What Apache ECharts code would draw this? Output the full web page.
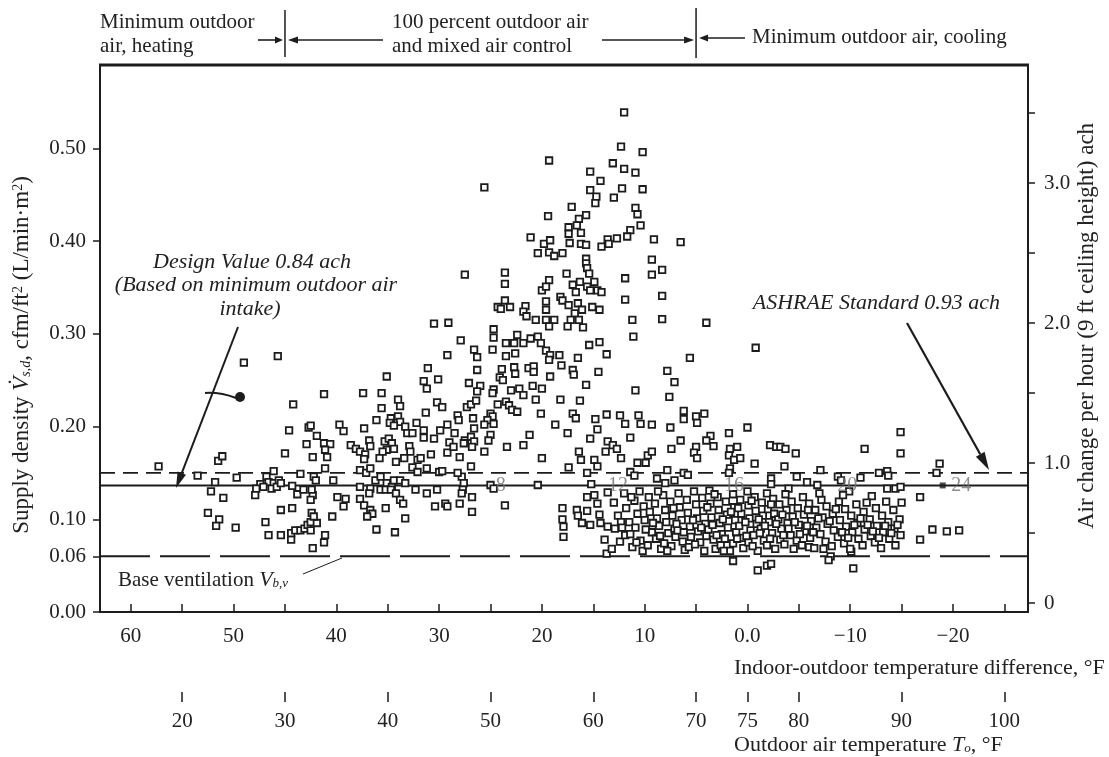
<!DOCTYPE html>
<html><head><meta charset="utf-8">
<script src="https://cdn.jsdelivr.net/npm/echarts@6/dist/echarts.min.js"></script>
<style>html,body{margin:0;padding:0;background:#fff}#c{width:1109px;height:757px}</style>
</head><body><div id="c"></div>
<script>
// ---------- axis values ----------
const tempDiffMin = -27.3, tempDiffMax = 63;
const tempDiffTicks = [-25,-20,-15,-10,-5,0,5,10,15,20,25,30,35,40,45,50,55,60];
const tempDiffLabels = [-20,-10,0,10,20,30,40,50,60];
const indoorTemp = 75;               // outdoor temperature = 75 - difference
const outdoorTempLabels = [20,30,40,50,60,70,75,80,90,100];
const supplyMin = 0, supplyMax = 0.59;
const supplyLabels = [0,0.06,0.10,0.20,0.30,0.40,0.50];
const achMin = -0.064, achMax = 3.843;
const achTicks = [0,0.5,1,1.5,2,2.5,3,3.5];
const achLabels = [0,1,2,3];
const controlBounds = [45, 5];       // temperature differences of the control-mode boundaries
const designAch = 0.84, ashraeAch = 0.93, baseVentilation = 0.06;
const hourLabels = ['8','12','16','20','24'];
const hourTempDiff = [24.0,12.6,1.3,-9.7,-20.8];
const hourMarkerDiff = [-19.0];

// ---------- measured points [temperature difference °F, supply density cfm/ft2] ----------
const heatingPoints = [[49.0,0.269],[45.7,0.276],[44.2,0.224],[44.6,0.196],[42.7,0.199],[41.9,0.190],[42.9,0.181],[45.0,0.171],[42.3,0.167],[57.3,0.157],[51.5,0.163],[51.1,0.168],[53.5,0.147],[51.8,0.140],[49.7,0.145],[52.2,0.130],[51.0,0.123],[46.1,0.152],[46.8,0.146],[46.6,0.140],[46.1,0.139],[45.6,0.142],[47.4,0.138],[47.8,0.133],[47.1,0.135],[46.3,0.133],[45.8,0.135],[45.4,0.139],[47.9,0.126],[44.3,0.136],[43.5,0.149],[43.8,0.127],[43.2,0.132],[42.3,0.126],[42.2,0.146],[52.5,0.107],[51.4,0.100],[51.7,0.093],[49.8,0.091],[46.9,0.097],[46.6,0.083],[45.4,0.110],[44.3,0.112],[45.4,0.083],[44.4,0.078],[44.4,0.085],[44.0,0.088],[43.5,0.088],[43.1,0.090],[42.8,0.094],[42.5,0.097],[42.4,0.107],[41.9,0.096],[42.3,0.069]];

const mixedLowPoints = [[27.5,0.364],[23.6,0.366],[23.6,0.354],[23.6,0.336],[24.3,0.329],[24.0,0.327],[30.5,0.311],[29.1,0.312],[24.7,0.305],[24.7,0.296],[23.5,0.290],[27.9,0.293],[29.2,0.277],[26.6,0.283],[26.3,0.275],[24.8,0.283],[23.5,0.276],[31.1,0.263],[35.1,0.254],[31.5,0.249],[31.2,0.241],[30.1,0.251],[26.3,0.261],[23.9,0.262],[24.1,0.253],[23.8,0.250],[27.1,0.247],[26.0,0.244],[26.3,0.238],[24.7,0.240],[24.8,0.236],[41.2,0.235],[37.4,0.236],[35.6,0.236],[34.0,0.229],[33.8,0.222],[35.6,0.220],[30.2,0.226],[29.7,0.221],[31.3,0.215],[27.3,0.221],[26.9,0.224],[26.4,0.228],[24.3,0.224],[23.5,0.227],[28.2,0.212],[28.1,0.207],[26.7,0.209],[26.6,0.198],[25.0,0.214],[24.8,0.211],[25.3,0.207],[24.7,0.203],[25.6,0.202],[36.1,0.207],[34.7,0.209],[34.8,0.204],[34.0,0.211],[33.8,0.205],[34.4,0.201],[33.3,0.200],[33.1,0.193],[32.6,0.193],[32.2,0.204],[31.5,0.196],[31.5,0.188],[30.5,0.187],[29.9,0.196],[29.2,0.202],[28.5,0.193],[27.5,0.185],[26.9,0.189],[26.6,0.184],[25.0,0.191],[25.2,0.185],[42.5,0.201],[39.7,0.202],[39.3,0.195],[37.3,0.198],[41.2,0.182],[40.6,0.181],[41.1,0.175],[40.9,0.167],[38.6,0.180],[38.1,0.176],[37.7,0.173],[36.8,0.185],[36.7,0.179],[37.2,0.170],[37.3,0.165],[35.3,0.184],[34.9,0.187],[34.6,0.182],[34.4,0.176],[35.1,0.175],[35.5,0.173],[35.8,0.166],[32.9,0.179],[32.8,0.173],[34.2,0.162],[33.4,0.166],[32.1,0.164],[31.8,0.166],[32.6,0.156],[32.1,0.151],[30.8,0.170],[29.2,0.172],[31.2,0.155],[30.0,0.151],[29.7,0.152],[29.0,0.183],[28.6,0.178],[28.0,0.167],[27.6,0.182],[26.8,0.178],[26.9,0.157],[25.6,0.173],[23.4,0.178],[41.1,0.155],[40.3,0.142],[42.0,0.142],[37.7,0.153],[37.1,0.150],[36.7,0.155],[36.2,0.142],[35.7,0.146],[35.1,0.139],[34.6,0.135],[34.4,0.142],[33.8,0.142],[33.3,0.139],[35.7,0.132],[35.2,0.132],[34.7,0.132],[34.2,0.128],[36.7,0.133],[36.8,0.128],[37.7,0.135],[32.3,0.132],[31.2,0.128],[30.2,0.132],[27.8,0.146],[27.6,0.139],[27.7,0.132],[27.8,0.128],[28.2,0.150],[26.8,0.124],[25.0,0.137],[24.7,0.133],[42.4,0.132],[42.5,0.121],[39.9,0.124],[39.1,0.122],[39.3,0.114],[37.7,0.122],[37.3,0.115],[36.7,0.110],[36.5,0.106],[37.0,0.103],[35.2,0.112],[33.8,0.121],[33.5,0.117],[30.4,0.114],[29.4,0.117],[29.2,0.114],[28.0,0.117],[26.8,0.108],[23.6,0.115],[40.4,0.103],[33.3,0.101],[36.1,0.089],[34.3,0.086],[42.2,0.103],[42.5,0.088],[41.1,0.083],[41.2,0.075],[25.6,0.458]];

const mixedPeakPoints = [[12.0,0.539],[12.3,0.502],[10.2,0.496],[19.3,0.487],[13.1,0.484],[12.0,0.478],[10.9,0.474],[15.3,0.475],[14.3,0.465],[15.3,0.455],[14.7,0.448],[14.8,0.441],[12.2,0.457],[13.0,0.447],[10.2,0.456],[17.1,0.437],[10.9,0.436],[10.7,0.429],[10.4,0.417],[19.4,0.427],[15.7,0.428],[16.4,0.424],[16.6,0.417],[16.2,0.409],[17.4,0.415],[17.4,0.408],[17.3,0.398],[11.4,0.412],[11.7,0.405],[12.7,0.403],[13.6,0.402],[14.2,0.394],[13.5,0.397],[9.1,0.402],[21.1,0.404],[19.8,0.397],[19.2,0.401],[20.4,0.387],[19.3,0.388],[18.8,0.384],[18.0,0.387],[16.2,0.397],[15.7,0.396],[15.7,0.381],[15.7,0.376],[15.6,0.371],[15.4,0.365],[9.3,0.380],[9.3,0.364],[8.3,0.369],[11.9,0.360],[11.9,0.337],[8.3,0.341],[8.3,0.316],[11.1,0.297],[11.2,0.315],[19.3,0.358],[20.0,0.347],[19.6,0.351],[17.6,0.365],[17.0,0.353],[16.7,0.345],[16.3,0.356],[15.6,0.351],[14.9,0.356],[14.6,0.347],[14.2,0.345],[15.3,0.347],[18.2,0.340],[18.0,0.336],[19.6,0.335],[19.6,0.326],[21.6,0.330],[21.8,0.324],[21.5,0.319],[23.1,0.329],[17.4,0.331],[16.5,0.333],[16.1,0.326],[16.8,0.322],[17.2,0.315],[16.4,0.315],[15.1,0.329],[14.4,0.326],[20.6,0.315],[19.6,0.315],[18.8,0.315],[19.3,0.308],[17.5,0.308],[16.0,0.307],[22.4,0.299],[22.7,0.290],[21.8,0.290],[21.1,0.295],[20.4,0.297],[20.1,0.290],[15.4,0.288],[14.4,0.291],[6.5,0.399],
[22.6,0.279],[19.6,0.282],[19.2,0.277],[19.3,0.272],[18.3,0.277],[13.7,0.278],[16.5,0.274],[18.1,0.266],[22.7,0.264],[22.6,0.257],[21.3,0.263],[20.8,0.265],[20.8,0.259],[19.2,0.254],[17.0,0.261],[16.9,0.256],[14.5,0.259],[15.7,0.245],[7.8,0.260],[7.1,0.248],[10.9,0.239],[7.6,0.232],[23.0,0.239],[22.2,0.241],[21.8,0.234],[20.9,0.244],[20.0,0.241],[20.6,0.229],[18.2,0.229],[16.3,0.228],[23.2,0.223],[22.9,0.218],[22.4,0.216],[20.1,0.214],[17.0,0.214],[16.7,0.209],[14.8,0.208],[13.7,0.213],[12.4,0.212],[11.9,0.203],[10.6,0.212],[10.4,0.203],[9.3,0.202],[7.5,0.199],[6.5,0.185],[18.7,0.202],[17.5,0.193],[21.2,0.191],[21.8,0.180],[14.6,0.197],[15.3,0.187],[11.4,0.188],[13.6,0.184],[13.8,0.173],[13.1,0.180],[12.7,0.176],[12.3,0.166],[7.4,0.176],[20.0,0.166],[16.4,0.173],[16.2,0.164],[14.9,0.164],[14.6,0.157],[10.7,0.161],[9.9,0.161],[9.7,0.169],[9.3,0.173],[17.4,0.156],[15.6,0.150],[11.4,0.151],[11.0,0.147],[8.8,0.144],[7.8,0.153],[8.0,0.139],[7.1,0.142],[20.4,0.137],[15.2,0.138],[13.6,0.129],[15.6,0.124],[14.9,0.126],[14.6,0.117],[18.0,0.112],[16.6,0.110],[15.6,0.109],[18.0,0.100],[17.9,0.092],[17.9,0.081],[16.5,0.104],[16.1,0.096],[15.3,0.094],[14.4,0.105],[14.3,0.096],[13.6,0.092],[13.9,0.078],[13.7,0.063]];

const coolingUpperPoints = [[4.0,0.312],[-0.8,0.285],[5.6,0.274],[6.2,0.217],[6.2,0.208],[5.0,0.211],[4.9,0.204],[4.2,0.214],[0.0,0.199],[1.8,0.193],[3.6,0.190],[4.0,0.185],[3.3,0.179],[5.0,0.178],[5.2,0.172],[4.9,0.166],[1.7,0.176],[1.0,0.178],[1.8,0.169],[1.3,0.164],[0.7,0.166],[-2.2,0.180],[-2.8,0.178],[-3.2,0.178],[-3.7,0.176],[-4.7,0.171],[-0.7,0.160],[-3.6,0.157],[1.7,0.155],[1.8,0.150],[6.2,0.150],[5.8,0.148],[-2.3,0.144],[-2.3,0.138],[-4.8,0.146],[-4.0,0.133],[-5.8,0.140],[1.4,0.055],[-1.0,0.045],[-1.9,0.050],[-2.3,0.052],
[-14.9,0.194],[-11.4,0.176],[-14.9,0.171],[-18.7,0.160],[-18.4,0.150],[-7.1,0.153],[-6.8,0.137],[-8.8,0.146],[-9.1,0.142],[-11.0,0.145],[-12.8,0.150],[-13.6,0.152],[-13.7,0.147],[-9.9,0.130],[-13.6,0.133],[-14.4,0.133],[-14.9,0.135],[-12.1,0.125],[-16.8,0.124],[-13.5,0.119],[-18.0,0.089],[-19.4,0.087],[-20.6,0.088],[-16.8,0.078],[-8.1,0.060],[-7.9,0.056],[-10.3,0.047],[-6.0,0.070],[-10.1,0.065]];

const coolingDensePoints = [[13.0,0.118],[12.6,0.104],[12.9,0.090],[12.4,0.076],[13.2,0.068],[12.0,0.128],[11.8,0.112],[11.5,0.097],[11.9,0.083],[11.2,0.070],[11.0,0.120],[10.7,0.106],[10.9,0.091],[10.4,0.077],[10.2,0.066],[10.5,0.130],[10.1,0.114],[10.0,0.099],
[9.6,0.124],[9.5,0.108],[9.3,0.086],[9.7,0.072],[9.0,0.117],[8.8,0.101],[8.6,0.093],[8.9,0.079],[8.4,0.068],[8.2,0.126],[8.0,0.110],[7.9,0.097],[7.7,0.085],[8.1,0.074],[7.5,0.119],[7.3,0.104],[7.1,0.090],[7.4,0.071],[7.0,0.081],
[6.7,0.128],[6.6,0.113],[6.4,0.099],[6.8,0.088],[6.3,0.076],[6.1,0.067],[5.9,0.121],[5.8,0.107],[5.6,0.092],[5.5,0.081],[5.7,0.070],[5.2,0.130],[5.0,0.116],[4.9,0.101],[4.8,0.087],[4.6,0.075],[4.4,0.123],[4.3,0.109],[4.1,0.095],[4.2,0.066],[4.0,0.082],
[3.7,0.131],[3.6,0.117],[3.5,0.102],[3.8,0.089],[3.3,0.078],[3.1,0.068],[2.9,0.124],[2.8,0.110],[2.7,0.096],[2.5,0.084],[2.6,0.072],[2.1,0.119],[2.0,0.105],[1.9,0.091],[2.2,0.079],[1.7,0.066],[1.4,0.127],[1.3,0.113],[1.2,0.099],[1.1,0.086],[1.4,0.074],
[0.7,0.121],[0.6,0.106],[0.8,0.093],[0.5,0.080],[0.4,0.069],[0.0,0.130],[-0.1,0.115],[-0.2,0.101],[-0.3,0.088],[-0.1,0.075],[-0.7,0.124],[-0.8,0.109],[-0.9,0.095],[-0.6,0.083],[-1.0,0.066],[-1.4,0.118],[-1.5,0.104],[-1.3,0.090],[-1.6,0.077],[-1.9,0.128],[-2.0,0.111],[-2.1,0.097],[-1.9,0.072],
[-2.5,0.122],[-2.6,0.106],[-2.4,0.085],[-2.7,0.068],[-3.1,0.116],[-3.0,0.100],[-3.3,0.090],[-3.2,0.078],[-3.7,0.127],[-3.8,0.110],[-3.9,0.096],[-3.6,0.073],[-4.3,0.119],[-4.4,0.103],[-4.2,0.083],[-4.5,0.068],[-4.9,0.112],[-5.0,0.094],[-4.8,0.077],
[-5.4,0.124],[-5.5,0.105],[-5.6,0.087],[-5.3,0.072],[-6.0,0.117],[-6.2,0.098],[-6.1,0.080],[-6.6,0.110],[-6.7,0.091],[-6.5,0.069],[-7.2,0.121],[-7.3,0.102],[-7.1,0.084],[-7.7,0.114],[-7.8,0.095],[-7.6,0.076],
[-8.3,0.106],[-8.4,0.088],[-8.2,0.071],[-8.9,0.119],[-9.0,0.099],[-8.8,0.081],[-9.5,0.111],[-9.6,0.092],[-9.4,0.074],[-10.1,0.104],[-10.2,0.086],[-10.0,0.068],[-10.6,0.116],[-10.7,0.096],[-10.8,0.079],
[-11.3,0.108],[-11.4,0.089],[-11.2,0.072],[-11.9,0.100],[-12.0,0.082],[-12.5,0.112],[-12.6,0.093],[-12.4,0.075],[-13.1,0.104],[-13.2,0.086],[-13.0,0.069],[-13.7,0.097],[-13.8,0.079],[-14.2,0.110],[-14.3,0.090],[-14.4,0.072],[-14.8,0.100],[-14.9,0.083],[-15.0,0.118]];

const coolingDenseFill = [[12.3,0.097],[11.4,0.084],[10.8,0.075],[9.9,0.089],[9.2,0.096],[8.5,0.082],[7.8,0.066],[7.2,0.112],[6.9,0.095],[6.2,0.086],[5.3,0.099],[5.1,0.073],[4.5,0.091],[3.9,0.113],[3.4,0.094],[3.0,0.083],[2.4,0.100],[2.3,0.066],[1.6,0.108],[1.0,0.079],[0.9,0.112],[0.2,0.097],[0.1,0.082],[-0.4,0.120],[-0.5,0.071],[-1.1,0.100],[-1.2,0.085],[-1.7,0.093],[-2.3,0.116],[-2.2,0.079],[-2.8,0.095],[-3.4,0.105],[-3.5,0.083],[-4.0,0.090],[-4.6,0.097],[-5.1,0.084],[-5.8,0.093],[-5.9,0.110],[-6.4,0.086],[-6.9,0.101],[-7.4,0.068],[-8.0,0.098],[-8.6,0.111],[-9.2,0.086],[-9.8,0.080],[-10.4,0.094],[-11.0,0.101],[-11.7,0.094],[-12.2,0.087],[-12.8,0.080],[-13.4,0.093],[-14.0,0.085],[-14.6,0.094],[-11.6,0.118],[-9.3,0.126],[-7.0,0.128],[3.2,0.127],[8.7,0.130],[11.3,0.124],[12.2,0.091]];

const allPoints = heatingPoints.concat(mixedLowPoints, mixedPeakPoints, coolingUpperPoints, coolingDensePoints, coolingDenseFill);

// ---------- chart ----------
const FONT = 'Liberation Serif';
const INK = '#1c1c1c';
const chart = echarts.init(document.getElementById('c'), null, {renderer:'canvas'});
const minus = v => v < 0 ? '\u2212' + Math.abs(v) : String(v);

const option = {
  animation: false,
  backgroundColor: '#fff',
  textStyle: {fontFamily: FONT},
  grid: {left: 100, right: 81, top: 65, bottom: 145, show: true, borderColor: INK, borderWidth: 2},
  xAxis: [{
    type: 'value', min: tempDiffMin, max: tempDiffMax, inverse: true, position: 'bottom',
    axisLine: {show: true, onZero: false, lineStyle: {color: INK, width: 2}},
    axisTick: {show: true, inside: true, length: 8, customValues: tempDiffTicks, lineStyle: {color: INK, width: 1.5}},
    axisLabel: {customValues: tempDiffLabels, margin: 14, fontSize: 21, color: '#222', fontFamily: FONT,
      formatter: v => v === 0 ? '0.0' : minus(v)},
    splitLine: {show: false}
  }, {
    type: 'value', min: indoorTemp - tempDiffMax, max: indoorTemp - tempDiffMin, position: 'bottom', offset: 80,
    axisLine: {show: false, onZero: false},
    axisTick: {show: true, length: 10, customValues: outdoorTempLabels, lineStyle: {color: INK, width: 1.5}},
    axisLabel: {customValues: outdoorTempLabels, margin: 19, fontSize: 21, color: '#222', fontFamily: FONT},
    splitLine: {show: false}
  }],
  yAxis: [{
    type: 'value', min: supplyMin, max: supplyMax, position: 'left',
    axisLine: {show: true, onZero: false, lineStyle: {color: INK, width: 2}},
    axisTick: {show: true, length: 7, customValues: supplyLabels, lineStyle: {color: INK, width: 1.5}},
    axisLabel: {customValues: supplyLabels, margin: 14, fontSize: 21, color: '#222', fontFamily: FONT,
      formatter: v => v.toFixed(2)},
    splitLine: {show: false}
  }, {
    type: 'value', min: achMin, max: achMax, position: 'right',
    axisLine: {show: true, onZero: false, lineStyle: {color: INK, width: 2}},
    axisTick: {show: true, length: 7, customValues: achTicks, lineStyle: {color: INK, width: 1.5}},
    axisLabel: {customValues: achLabels, margin: 16, fontSize: 21, color: '#222', fontFamily: FONT,
      formatter: v => v === 0 ? '0' : v.toFixed(1)},
    splitLine: {show: false}
  }],
  series: [
    {type: 'line', xAxisIndex: 0, yAxisIndex: 1, data: [[tempDiffMax, ashraeAch], [tempDiffMin, ashraeAch]],
     symbol: 'none', silent: true, z: 2, lineStyle: {color: INK, width: 1.6, type: [15, 8]}},
    {type: 'line', xAxisIndex: 0, yAxisIndex: 1, data: [[tempDiffMax, designAch], [tempDiffMin, designAch]],
     symbol: 'none', silent: true, z: 2, lineStyle: {color: INK, width: 2, type: 'solid'}},
    {type: 'line', xAxisIndex: 0, yAxisIndex: 0, data: [[tempDiffMax, baseVentilation], [tempDiffMin, baseVentilation]],
     symbol: 'none', silent: true, z: 2, lineStyle: {color: INK, width: 2, type: [50, 10]}},
    {type: 'scatter', xAxisIndex: 0, yAxisIndex: 0, data: allPoints, symbol: 'rect', symbolSize: 6.5, z: 3,
     itemStyle: {color: '#fff', borderColor: INK, borderWidth: 1.8, opacity: 1}},
    {type: 'scatter', xAxisIndex: 0, yAxisIndex: 1, z: 5,
     data: hourTempDiff.map((d, i) => ({value: [d, designAch], name: hourLabels[i]})),
     symbolSize: 2, itemStyle: {color: 'rgba(0,0,0,0)'},
     label: {show: true, position: 'inside', formatter: '{b}', fontSize: 20, color: '#707070', fontFamily: FONT}},
    {type: 'scatter', xAxisIndex: 0, yAxisIndex: 1, z: 4, data: hourMarkerDiff.map(d => [d, designAch]),
     symbol: 'rect', symbolSize: 6, itemStyle: {color: INK}}
  ]
};
chart.setOption(option);

// ---------- annotations ----------
const xPix = d => chart.convertToPixel({xAxisIndex: 0}, d);
function arrow(x1, y1, x2, y2, head, w, lw) {
  const a = Math.atan2(y2 - y1, x2 - x1);
  const bx = x2 - head * Math.cos(a), by = y2 - head * Math.sin(a);
  const nx = -Math.sin(a) * w, ny = Math.cos(a) * w;
  return [
    {type: 'line', silent: true, shape: {x1: x1, y1: y1, x2: bx, y2: by}, style: {stroke: INK, lineWidth: lw || 1.6}},
    {type: 'polygon', silent: true, shape: {points: [[x2, y2], [bx + nx, by + ny], [bx - nx, by - ny]]}, style: {fill: INK}}
  ];
}
function txt(x, y, text, opt, rot) {
  const el = {type: 'text', silent: true, x: x, y: y,
    style: Object.assign({text: text, fontFamily: FONT, fontSize: 21, fill: '#222', align: 'left', verticalAlign: 'middle'}, opt || {})};
  if (rot) el.rotation = rot;
  return el;
}
const xa = xPix(controlBounds[0]), xb = xPix(controlBounds[1]);
const g = [];
g.push({type: 'line', silent: true, shape: {x1: xa, y1: 10, x2: xa, y2: 57}, style: {stroke: INK, lineWidth: 1.5}});
g.push({type: 'line', silent: true, shape: {x1: xb, y1: 8, x2: xb, y2: 58}, style: {stroke: INK, lineWidth: 1.5}});
g.push(...arrow(258, 40, xa - 2, 40, 8, 3.5));
g.push(...arrow(383, 40, xa + 3, 40, 10, 3.5));
g.push(...arrow(602, 40, xb - 2, 40, 10, 3.5));
g.push(...arrow(745, 38, xb + 3, 38, 9, 3.5));
g.push(txt(100, 22, 'Minimum outdoor'));
g.push(txt(100, 46, 'air, heating'));
g.push(txt(392, 22, '100 percent outdoor air'));
g.push(txt(392, 46, 'and mixed air control'));
g.push(txt(752, 37, 'Minimum outdoor air, cooling'));
// design value
g.push(txt(252, 262, 'Design Value 0.84 ach', {align: 'center', fontStyle: 'italic', fontSize: 22}));
g.push(txt(256, 285, '(Based on minimum outdoor air', {align: 'center', fontStyle: 'italic', fontSize: 22}));
g.push(txt(250, 309, 'intake)', {align: 'center', fontStyle: 'italic', fontSize: 22}));
g.push(...arrow(238, 327, 176, 488, 16, 4.5, 2));
// ASHRAE
g.push(txt(1000, 303, 'ASHRAE Standard 0.93 ach', {align: 'right', fontStyle: 'italic', fontSize: 22}));
g.push(...arrow(907, 323, 989, 470, 18, 5, 2.2));
// base ventilation
g.push(txt(118, 580, 'Base ventilation {i|V}{s|b,v}', {fontSize: 21, rich: {
  i: {fontStyle: 'italic', fontSize: 22, fontFamily: FONT, fill: '#222'},
  s: {fontStyle: 'italic', fontSize: 13, fontFamily: FONT, fill: '#222', padding: [8, 0, 0, 0]}
}}));
g.push({type: 'line', silent: true, shape: {x1: 303, y1: 574, x2: 342, y2: 558}, style: {stroke: INK, lineWidth: 1}});
// stray pen mark near the design-value arrow
g.push({type: 'bezierCurve', silent: true, shape: {x1: 205, y1: 393, x2: 236, y2: 398, cpx1: 220, cpy1: 392}, style: {stroke: INK, lineWidth: 2, fill: null}});
g.push({type: 'circle', silent: true, shape: {cx: 240, cy: 397, r: 5}, style: {fill: INK}});
// axis titles
g.push(txt(734, 668, 'Indoor-outdoor temperature difference, \u00B0F', {fontSize: 22}));
g.push(txt(734, 745, 'Outdoor air temperature {i|T}{s|o}, \u00B0F', {fontSize: 22, rich: {
  i: {fontStyle: 'italic', fontSize: 22, fontFamily: FONT, fill: '#222'},
  s: {fontStyle: 'italic', fontSize: 13, fontFamily: FONT, fill: '#222', padding: [8, 0, 0, 0]}
}}));
g.push(txt(22, 355, 'Supply density {i|V\u0307}{s|s,d}, cfm/ft{p|2} (L/min\u00B7m{p|2})', {
  align: 'center', fontSize: 23, rich: {
    i: {fontStyle: 'italic', fontSize: 23, fontFamily: FONT, fill: '#222'},
    s: {fontStyle: 'italic', fontSize: 14, fontFamily: FONT, fill: '#222', padding: [8, 0, 0, 0]},
    p: {fontSize: 14, fontFamily: FONT, fill: '#222', padding: [0, 0, 8, 0]}
  }}, Math.PI / 2));
g.push(txt(1087, 326, 'Air change per hour (9 ft ceiling height) ach', {align: 'center', fontSize: 23}, Math.PI / 2));
// thicker top frame
g.push({type: 'line', silent: true, shape: {x1: 99, y1: 65, x2: 1029, y2: 65}, style: {stroke: INK, lineWidth: 3}});
chart.setOption({graphic: {elements: g}});
</script></body></html>
